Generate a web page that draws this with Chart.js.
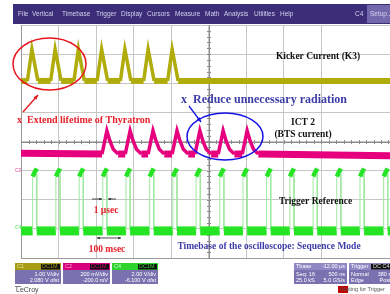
<!DOCTYPE html>
<html>
<head>
<meta charset="utf-8">
<script src="https://cdn.jsdelivr.net/npm/chart.js@4.4.1/dist/chart.umd.min.js"></script>
<style>
  html, body { margin: 0; padding: 0; background: #fff; }
  canvas { display: block; }
</style>
</head>
<body>
<canvas id="scope" width="390" height="294"></canvas>
<script>
// screen is in graticule divisions: 10 across (9.84 visible), 8 high
const xMaxDiv = 9.84;
const yMaxDiv = 8;

// C1 - kicker current (K3)
const kickerPeaks = [0.29, 0.91, 1.53, 2.15, 2.77, 3.39, 4.03];
const kickerBase = 6.08;
const kickerShape = [[-0.12, 0], [0, 1.09], [0.16, 0]];   // [dt, height above base]

// C2 - ICT 2 (BTS current)
const ictPeaks = [2.29, 2.91, 3.52, 4.16, 4.77, 5.39, 6.03];
const ictBaseStart = 3.6;
const ictBase = 3.57;
const ictBaseEnd = 3.51;
const ictShape = [[-0.13, 0], [0, 0.8], [0.08, 0.45], [0.17, 0.16], [0.3, 0]];

// C4 - trigger reference, 16 sequence segments
const trigRise = [0.31, 0.93, 1.55, 2.18, 2.80, 3.43, 4.05, 4.67, 5.30, 5.92, 6.55, 7.17, 7.79, 8.42, 9.04, 9.67];
const trigBase = 0.93;
const trigShape = [[0, 0], [0, 2.04], [0.11, 1.97], [0.11, 0]];

function pulseTrain(peaks, base, shape, startLevel, endLevel) {
    const pts = [{x: 0, y: startLevel}];
    peaks.forEach(t => {
        shape.forEach(s => pts.push({x: t + s[0], y: base + s[1]}));
    });
    pts.push({x: xMaxDiv, y: endLevel});
    return pts;
}

const steep = c => Math.abs(c.p1.y - c.p0.y) > 2;

const overlay = {
    id: "overlay",
    beforeDraw(chart) {
        const ctx = chart.ctx;
        ctx.save();
        ctx.fillStyle = "#fff";
        ctx.fillRect(0, 0, chart.width, chart.height);
        ctx.restore();
    },
    beforeDatasetsDraw(chart) {
        // centre cross with minor ticks
        const ctx = chart.ctx;
        const xs = chart.scales.x, ys = chart.scales.y;
        const cx = xs.getPixelForValue(5), cy = ys.getPixelForValue(4);
        ctx.save();
        ctx.strokeStyle = "#8c8c8c";
        ctx.lineWidth = 1;
        ctx.beginPath();
        ctx.moveTo(Math.round(cx) + 0.5, ys.top);
        ctx.lineTo(Math.round(cx) + 0.5, ys.bottom);
        ctx.moveTo(xs.left, Math.round(cy) + 0.5);
        ctx.lineTo(xs.right, Math.round(cy) + 0.5);
        for (let v = 0; v <= xMaxDiv; v += 0.2) {
            const px = Math.round(xs.getPixelForValue(v)) + 0.5;
            ctx.moveTo(px, cy - 1.5);
            ctx.lineTo(px, cy + 2.5);
        }
        for (let v = 0; v <= yMaxDiv; v += 0.2) {
            const py = Math.round(ys.getPixelForValue(v)) + 0.5;
            ctx.moveTo(cx - 1.5, py);
            ctx.lineTo(cx + 2.5, py);
        }
        ctx.stroke();
        ctx.restore();
    },
    afterDraw(chart) {
        const ctx = chart.ctx;
        ctx.save();

        // menu bar
        ctx.fillStyle = "#3b2d77";
        ctx.fillRect(13, 4, 377, 20);
        ctx.fillStyle = "#7468ac";
        ctx.fillRect(367, 5, 23, 18);
        ctx.font = '6.5px "Liberation Sans"';
        ctx.textBaseline = "middle";
        ctx.fillStyle = "#d4d2ee";
        const menu = [["File", 18], ["Vertical", 32], ["Timebase", 62], ["Trigger", 96], ["Display", 121],
            ["Cursors", 147], ["Measure", 175], ["Math", 205], ["Analysis", 224], ["Utilities", 254], ["Help", 280],
            ["C4", 355], ["Setup...", 370]];
        menu.forEach(m => ctx.fillText(m[0], m[1], 14.5));

        // channel ground markers
        ctx.font = 'bold 5px "Liberation Sans"';
        ctx.fillStyle = "#f07ab8";
        ctx.fillText("C2", 15, 171);
        ctx.fillStyle = "#7ee87e";
        ctx.fillText("C4", 15, 228);

        // ellipses and arrows
        const arrow = (x1, y1, x2, y2, col, w, head) => {
            ctx.strokeStyle = col; ctx.fillStyle = col; ctx.lineWidth = w;
            ctx.beginPath(); ctx.moveTo(x1, y1); ctx.lineTo(x2, y2); ctx.stroke();
            const a = Math.atan2(y2 - y1, x2 - x1);
            ctx.beginPath();
            ctx.moveTo(x2, y2);
            ctx.lineTo(x2 - head * Math.cos(a - 0.4), y2 - head * Math.sin(a - 0.4));
            ctx.lineTo(x2 - head * Math.cos(a + 0.4), y2 - head * Math.sin(a + 0.4));
            ctx.closePath(); ctx.fill();
        };
        ctx.lineWidth = 1.5;
        ctx.strokeStyle = "#e8141c";
        ctx.beginPath(); ctx.ellipse(49.5, 64, 36.5, 26, 0, 0, Math.PI * 2); ctx.stroke();
        arrow(23, 112, 38, 95, "#e8141c", 1.3, 5);
        ctx.lineWidth = 1.5;
        ctx.strokeStyle = "#1414e6";
        ctx.beginPath(); ctx.ellipse(225, 136.5, 38, 23.5, 0, 0, Math.PI * 2); ctx.stroke();
        arrow(189, 106, 201, 122, "#1414e6", 1.3, 5);

        // timing arrows
        arrow(92, 199, 102, 199, "#222", 0.8, 3);
        arrow(116, 199, 108, 199, "#222", 0.8, 3);
        arrow(109, 238, 97, 238, "#222", 0.8, 3);
        arrow(109, 238, 121, 238, "#222", 0.8, 3);

        // labels
        const label = (txt, x, y, font, col, align) => {
            ctx.font = font; ctx.fillStyle = col; ctx.textAlign = align || "center";
            ctx.textBaseline = "middle";
            ctx.fillText(txt, x, y);
        };
        const serif = s => 'bold ' + s + 'px "Liberation Serif"';
        label("x  Extend lifetime of Thyratron", 17, 120, serif(10), "#e8202a", "left");
        label("x  Reduce unnecessary radiation", 181, 100, serif(12), "#3c3ca8", "left");
        label("Kicker Current (K3)", 318, 57, serif(9.5), "#111");
        label("ICT 2", 303, 123, serif(9.5), "#111");
        label("(BTS current)", 303, 135, serif(9.5), "#111");
        label("Trigger Reference", 315.5, 202, serif(9.5), "#111");
        label("1 µsec", 106, 211, serif(9.5), "#e8202a");
        label("100 msec", 107, 250, serif(9.5), "#e8202a");
        label("Timebase of the oscilloscope: Sequence Mode", 269, 247, serif(9.5), "#3c3ca8");

        // channel descriptor boxes
        const box = (x, y, w, head, name, tag, lines, headText) => {
            ctx.fillStyle = "#7a72b0";
            ctx.fillRect(x, y, w, 21);
            ctx.fillStyle = head;
            ctx.fillRect(x, y, w, 7);
            ctx.font = '5.5px "Liberation Sans"';
            ctx.textBaseline = "middle";
            ctx.textAlign = "left";
            ctx.fillStyle = headText;
            ctx.fillText(name, x + 2, y + 3.8);
            if (tag) {
                ctx.fillStyle = "#111";
                ctx.fillRect(x + w - 20, y + 1, 19, 5.5);
                ctx.fillStyle = head;
                ctx.fillText(tag, x + w - 19, y + 3.8);
            }
            ctx.fillStyle = "#fff";
            lines.forEach((ln, i) => {
                if (Array.isArray(ln)) {
                    ctx.textAlign = "left";
                    ctx.fillText(ln[0], x + 2, y + 11 + i * 6.5);
                    ctx.textAlign = "right";
                    ctx.fillText(ln[1], x + w - 2, y + 11 + i * 6.5);
                } else {
                    ctx.textAlign = "right";
                    ctx.fillText(ln, x + w - 2, y + 11 + i * 6.5);
                }
            });
        };
        box(15, 263, 46, "#a89c14", "C1", "DC1M", ["1.00 V/div", "2.080 V ofst"], "#e6e49a");
        box(63, 263, 47, "#d8007c", "C2", "DC1M", ["200 mV/div", "-200.0 mV"], "#f4a0d0");
        box(112, 263, 46, "#2ed42e", "C4", "DC1M", ["2.00 V/div", "-6.100 V ofst"], "#c8f8c8");
        box(294, 263, 53, "#8f88c4", "Tbase", "", [["Seq: 16", "500 ns"], ["25.0 kS", "5.0 GS/s"]], "#fff");
        ctx.fillStyle = "#fff"; ctx.textAlign = "right";
        ctx.fillText("-12.00 µs", 345, 266.8);
        box(349, 263, 46, "#8f88c4", "Trigger", "", [["Normal", "380 m"], ["Edge", "Positi"]], "#fff");
        ctx.fillStyle = "#111";
        ctx.fillRect(371, 264, 19, 5.5);
        ctx.fillStyle = "#ddd"; ctx.textAlign = "left";
        ctx.fillText("DC C4", 373, 266.8);

        ctx.fillStyle = "#c40000";
        ctx.fillRect(338, 286, 10, 7);
        ctx.fillStyle = "#555";
        ctx.font = '5.5px "Liberation Sans"';
        ctx.fillText("Waiting for Trigger", 340, 289.8);

        ctx.font = '7px "Liberation Sans"';
        ctx.fillStyle = "#444";
        ctx.fillText("LeCroy", 16, 290);
        ctx.fillRect(15, 286, 6, 0.7);
        ctx.restore();
    }
};

new Chart(document.getElementById("scope"), {
    type: "line",
    data: {
        datasets: [
            {
                label: "ICT 2",
                data: pulseTrain(ictPeaks, ictBase, ictShape, ictBaseStart, ictBaseEnd),
                borderColor: "#e6007e",
                borderWidth: 7,
                segment: { borderWidth: c => steep(c) ? 3.5 : undefined }
            },
            {
                label: "Kicker Current (K3)",
                data: pulseTrain(kickerPeaks, kickerBase, kickerShape, kickerBase, kickerBase),
                borderColor: "#b0ac0c",
                borderWidth: 6,
                segment: { borderWidth: c => steep(c) ? 3.5 : undefined }
            },
            {
                label: "Trigger Reference",
                data: pulseTrain(trigRise, trigBase, trigShape, trigBase, trigBase),
                borderColor: "#24e424",
                borderWidth: 9,
                segment: {
                    borderColor: c => c.p0.parsed.x === c.p1.parsed.x ? "#9fe89f" : undefined,
                    borderWidth: c => c.p0.parsed.x === c.p1.parsed.x ? 1 : undefined
                }
            }
        ]
    },
    options: {
        responsive: false,
        animation: false,
        events: [],
        layout: { padding: { left: 21, top: 25, right: 0, bottom: 36 } },
        elements: { point: { radius: 0 }, line: { tension: 0, borderCapStyle: "butt", borderJoinStyle: "miter" } },
        plugins: { legend: { display: false }, tooltip: { enabled: false } },
        scales: {
            x: {
                type: "linear", min: 0, max: xMaxDiv,
                ticks: { display: false, stepSize: 1 },
                grid: { color: "#c6c6c6", drawTicks: false, tickLength: 0 },
                border: { color: "#9a9a9a" },
                afterFit: s => { s.height = 0; }
            },
            y: {
                type: "linear", min: 0, max: yMaxDiv,
                ticks: { display: false, stepSize: 1 },
                grid: { color: "#c6c6c6", drawTicks: false, tickLength: 0 },
                border: { color: "#9a9a9a" },
                afterFit: s => { s.width = 0; }
            }
        }
    },
    plugins: [overlay]
});
</script>
</body>
</html>
